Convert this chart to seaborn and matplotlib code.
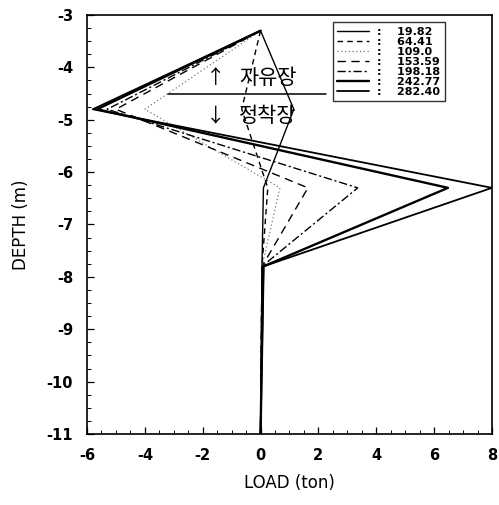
import matplotlib
matplotlib.use("Agg")
import matplotlib.pyplot as plt
from matplotlib.ticker import MultipleLocator
import pandas as pd
import seaborn as sns

sns.set_theme(style="white")
plt.rcParams["font.family"] = ["DejaVu Sans", "Noto Sans CJK KR"]
plt.rcParams["axes.unicode_minus"] = False
for key in ("text.color", "axes.labelcolor", "xtick.color", "ytick.color"):
    plt.rcParams[key] = "black"

# Depth points along the anchor (m)
depth = [-3.3, -4.8, -6.3, -7.8, -11.0]

# Applied loads (legend values) and the load distribution (ton) at each depth
applied = ["19.82", "64.41", "109.0", "153.59", "198.18", "242.77", "282.40"]
load_19_82 = [0.0, 1.15, 0.1, 0.05, 0.0]
load_64_41 = [0.0, -0.65, 0.25, 0.05, 0.0]
load_109_0 = [0.0, -4.0, 0.67, 0.05, 0.0]
load_153_59 = [0.0, -5.0, 1.64, 0.05, 0.0]
load_198_18 = [0.0, -5.3, 3.36, 0.05, 0.0]
load_242_77 = [0.0, -5.65, 6.48, 0.1, 0.0]
load_282_40 = [0.0, -5.8, 8.0, 0.1, 0.0]

series = [load_19_82, load_64_41, load_109_0, load_153_59,
          load_198_18, load_242_77, load_282_40]
styles = [
    dict(ls="-", lw=1.0, color="black"),
    dict(ls=(0, (4, 3)), lw=1.0, color="black"),
    dict(ls=(0, (1, 2)), lw=0.9, color="#777777"),
    dict(ls=(0, (6, 4)), lw=1.0, color="black"),
    dict(ls=(0, (6, 2, 1.5, 2)), lw=1.0, color="black"),
    dict(ls="-", lw=1.7, color="black"),
    dict(ls="-", lw=1.3, color="black"),
]

frames = []
for name, vals in zip(applied, series):
    frames.append(pd.DataFrame({"load": vals, "depth": depth, "P": name}))
df = pd.concat(frames, ignore_index=True)

fig = plt.figure(figsize=(4.99, 5.05), dpi=100)
ax = fig.add_axes([0.1743, 0.1406, 0.8116, 0.8297])

for name, st in zip(applied, styles):
    sub = df[df["P"] == name]
    sns.lineplot(data=sub, x="load", y="depth", sort=False, estimator=None,
                 ax=ax, color=st["color"], linewidth=st["lw"],
                 linestyle=st["ls"], label=f":    {name}")

ax.set_xlim(-6, 8)
ax.set_ylim(-11, -3)
ax.xaxis.set_major_locator(MultipleLocator(2))
ax.xaxis.set_minor_locator(MultipleLocator(0.5))
ax.yaxis.set_major_locator(MultipleLocator(1))
ax.yaxis.set_minor_locator(MultipleLocator(0.25))
ax.tick_params(which="both", direction="in", top=False, right=False,
               bottom=True, left=True, labelsize=10.5, color="black",
               labelcolor="black")
ax.tick_params(which="major", length=5, width=0.9, pad=10)
ax.tick_params(which="minor", length=3, width=0.7)
for lbl in ax.get_xticklabels() + ax.get_yticklabels():
    lbl.set_fontweight("bold")
for sp in ax.spines.values():
    sp.set_color("black")
    sp.set_linewidth(1.2)

ax.set_xlabel("LOAD (ton)", fontsize=12, labelpad=8, color="black")
ax.set_ylabel("DEPTH (m)", fontsize=12, labelpad=12, color="black")

# Free length / fixed length boundary
ax.plot([-3.2, 2.25], [-4.5, -4.5], color="black", lw=1.1)
kfont = ["Noto Sans CJK KR", "DejaVu Sans"]
ax.text(-1.55, -4.2, "↑", fontsize=14, ha="center", va="center",
        family=kfont, color="black")
ax.text(-0.75, -4.2, "자유장", fontsize=15, ha="left", va="center",
        family=kfont, color="black")
ax.text(-1.55, -4.92, "↓", fontsize=14, ha="center", va="center",
        family=kfont, color="black")
ax.text(-0.75, -4.92, "정착장", fontsize=15, ha="left", va="center",
        family=kfont, color="black")

leg = ax.legend(loc="upper left", bbox_to_anchor=(0.607, 0.983),
                frameon=True, fancybox=False, edgecolor="black",
                handlelength=2.9, handletextpad=0.7, labelspacing=0.0,
                borderpad=0.4, borderaxespad=0.0,
                prop={"weight": "bold", "size": 8.0, "family": "DejaVu Sans"})
leg.get_frame().set_linewidth(1.0)
for t in leg.get_texts():
    t.set_color("black")

fig.savefig("out.png", dpi=100)
